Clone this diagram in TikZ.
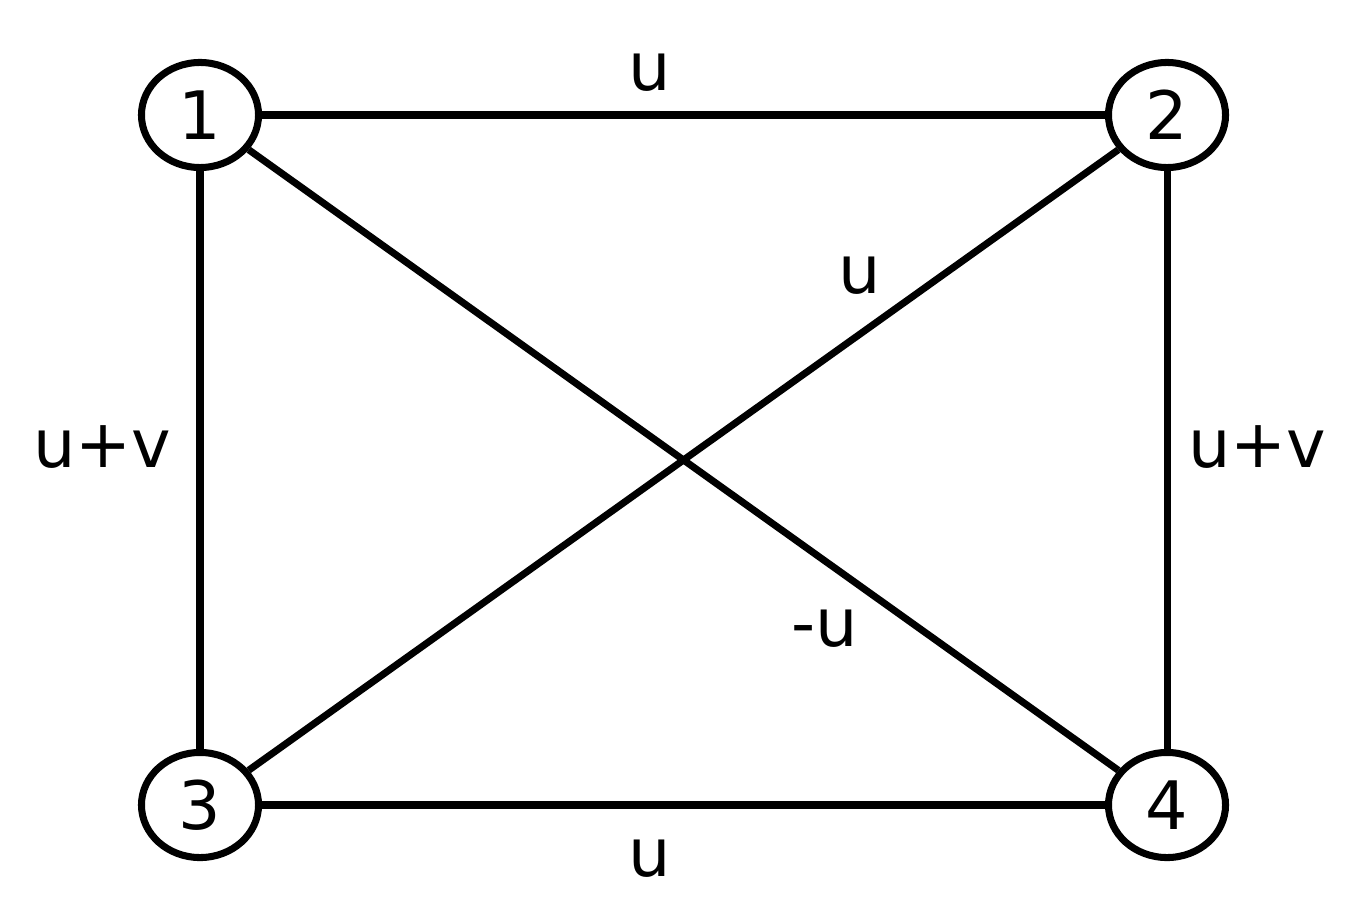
\documentclass[tikz,border=0pt]{standalone}
\usepackage{fontspec}
\setmainfont{DejaVu Sans}
\usetikzlibrary{shapes.geometric}
\begin{document}
\begin{tikzpicture}[x=0.01cm,y=-0.01cm,
  vert/.style={ellipse,draw,line width=2pt,minimum width=1.17cm,minimum height=1.05cm,inner sep=0pt,font=\fontsize{19}{22}\selectfont},
  edge/.style={line width=2pt},
  lab/.style={font=\fontsize{19}{22}\selectfont,inner sep=0pt}]
\useasboundingbox (0,0) rectangle (1367,900);
\node[vert] (n1) at (200,115) {1};
\node[vert] (n2) at (1167,115) {2};
\node[vert] (n3) at (200,805) {3};
\node[vert] (n4) at (1167,805) {4};
\draw[edge] (n1) -- (n2);
\draw[edge] (n3) -- (n4);
\draw[edge] (n1) -- (n3);
\draw[edge] (n2) -- (n4);
\draw[edge] (n1) -- (n4);
\draw[edge] (n2) -- (n3);
\node[lab] (l12) at (650,72) {u};
\node[lab] (l34) at (650,858) {u};
\node[lab] (l23) at (860,275) {u};
\node[lab] (l14) at (825,628) {-u};
\node[lab] (l13) at (102,447) {u+v};
\node[lab] (l24) at (1257,447) {u+v};
\end{tikzpicture}
\end{document}
